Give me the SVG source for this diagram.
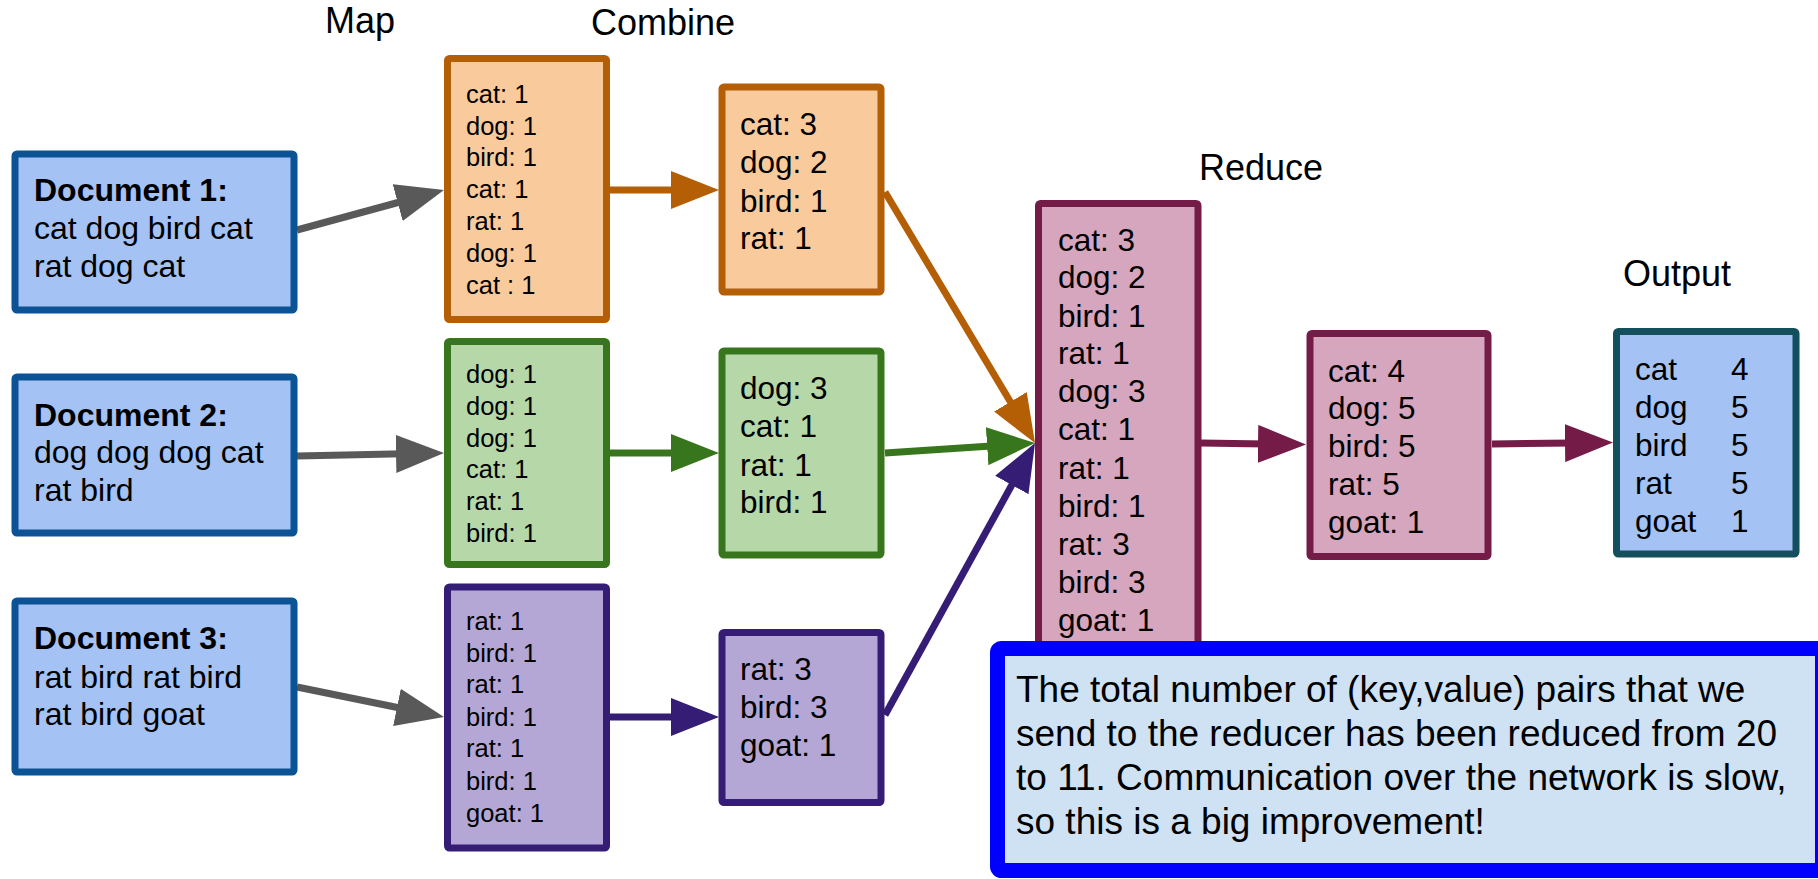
<svg xmlns="http://www.w3.org/2000/svg" width="1818" height="879" viewBox="0 0 1818 879">
<style>
text{font-family:"Liberation Sans",Arial,sans-serif;fill:#000}
.lbl{font-size:36px}
.doc{font-size:32px}
.docb{font-size:32px;font-weight:bold}
.sm{font-size:25.5px}
.md{font-size:31.5px}
.note{font-size:37px}
.box{stroke-width:7}
.docbox{fill:#a4c2f4;stroke:#0b5394}
.orbox{fill:#f9cb9c;stroke:#b45f06}
.grbox{fill:#b6d7a8;stroke:#38761d}
.pubox{fill:#b4a7d6;stroke:#351c75}
.pkbox{fill:#d5a6bd;stroke:#741b47}
.outbox{fill:#a4c2f4;stroke:#134f5c}
.con{fill:none;stroke-width:7}
</style>
<defs>
<marker id="hGray" markerUnits="userSpaceOnUse" markerWidth="48" markerHeight="38" refX="8" refY="19" orient="auto"><path d="M0,0 L48,19 L0,38 z" fill="#595959"/></marker>
<marker id="hOr" markerUnits="userSpaceOnUse" markerWidth="48" markerHeight="38" refX="8" refY="19" orient="auto"><path d="M0,0 L48,19 L0,38 z" fill="#b45f06"/></marker>
<marker id="hGr" markerUnits="userSpaceOnUse" markerWidth="48" markerHeight="38" refX="8" refY="19" orient="auto"><path d="M0,0 L48,19 L0,38 z" fill="#38761d"/></marker>
<marker id="hPu" markerUnits="userSpaceOnUse" markerWidth="48" markerHeight="38" refX="8" refY="19" orient="auto"><path d="M0,0 L48,19 L0,38 z" fill="#351c75"/></marker>
<marker id="hPk" markerUnits="userSpaceOnUse" markerWidth="48" markerHeight="38" refX="8" refY="19" orient="auto"><path d="M0,0 L48,19 L0,38 z" fill="#741b47"/></marker>
</defs>

<g id="labels">
<text class="lbl" x="325" y="33">Map</text>
<text class="lbl" x="591" y="35">Combine</text>
<text class="lbl" x="1199" y="180">Reduce</text>
<text class="lbl" x="1623" y="286">Output</text>
</g>

<g id="connectors">
<line class="con" stroke="#595959" x1="297" y1="230" x2="405.4" y2="200.5" marker-end="url(#hGray)"/>
<line class="con" stroke="#595959" x1="297" y1="456" x2="404" y2="453.8" marker-end="url(#hGray)"/>
<line class="con" stroke="#595959" x1="297" y1="687" x2="404.8" y2="709" marker-end="url(#hGray)"/>
<line class="con" stroke="#b45f06" x1="610" y1="190" x2="679" y2="190" marker-end="url(#hOr)"/>
<line class="con" stroke="#38761d" x1="610" y1="453" x2="679" y2="453" marker-end="url(#hGr)"/>
<line class="con" stroke="#351c75" x1="610" y1="717" x2="679" y2="717" marker-end="url(#hPu)"/>
<line class="con" stroke="#b45f06" x1="885" y1="192" x2="1014.5" y2="408.7" marker-end="url(#hOr)"/>
<line class="con" stroke="#38761d" x1="885" y1="453" x2="995.1" y2="445.7" marker-end="url(#hGr)"/>
<line class="con" stroke="#351c75" x1="885" y1="715" x2="1015.7" y2="478" marker-end="url(#hPu)"/>
<line class="con" stroke="#741b47" x1="1201" y1="443" x2="1266" y2="444" marker-end="url(#hPk)"/>
<line class="con" stroke="#741b47" x1="1492" y1="444" x2="1573" y2="443" marker-end="url(#hPk)"/>
</g>

<g id="doc1">
<rect class="box docbox" x="15" y="154" width="279" height="156" rx="2"/>
<text class="docb" x="34" y="201">Document 1:</text>
<text class="doc" x="34" y="239">cat dog bird cat</text>
<text class="doc" x="34" y="277">rat dog cat</text>
</g>
<g id="doc2">
<rect class="box docbox" x="15" y="377" width="279" height="156" rx="2"/>
<text class="docb" x="34" y="426">Document 2:</text>
<text class="doc" x="34" y="463">dog dog dog cat</text>
<text class="doc" x="34" y="501">rat bird</text>
</g>
<g id="doc3">
<rect class="box docbox" x="15" y="601" width="279" height="171" rx="2"/>
<text class="docb" x="34" y="649">Document 3:</text>
<text class="doc" x="34" y="688">rat bird rat bird</text>
<text class="doc" x="34" y="725">rat bird goat</text>
</g>

<g id="map1">
<rect class="box orbox" x="447.5" y="58.5" width="159" height="261" rx="2"/>
<text class="sm" x="466" y="103">cat: 1</text>
<text class="sm" x="466" y="135">dog: 1</text>
<text class="sm" x="466" y="166">bird: 1</text>
<text class="sm" x="466" y="198">cat: 1</text>
<text class="sm" x="466" y="230">rat: 1</text>
<text class="sm" x="466" y="262">dog: 1</text>
<text class="sm" x="466" y="294">cat : 1</text>
</g>
<g id="map2">
<rect class="box grbox" x="447.5" y="341.5" width="159" height="223" rx="2"/>
<text class="sm" x="466" y="383">dog: 1</text>
<text class="sm" x="466" y="415">dog: 1</text>
<text class="sm" x="466" y="447">dog: 1</text>
<text class="sm" x="466" y="478">cat: 1</text>
<text class="sm" x="466" y="510">rat: 1</text>
<text class="sm" x="466" y="542">bird: 1</text>
</g>
<g id="map3">
<rect class="box pubox" x="447.5" y="587" width="159" height="261" rx="2"/>
<text class="sm" x="466" y="630">rat: 1</text>
<text class="sm" x="466" y="662">bird: 1</text>
<text class="sm" x="466" y="693">rat: 1</text>
<text class="sm" x="466" y="726">bird: 1</text>
<text class="sm" x="466" y="757">rat: 1</text>
<text class="sm" x="466" y="790">bird: 1</text>
<text class="sm" x="466" y="822">goat: 1</text>
</g>

<g id="combine1">
<rect class="box orbox" x="722" y="87" width="159" height="205" rx="2"/>
<text class="md" x="740" y="135">cat: 3</text>
<text class="md" x="740" y="173">dog: 2</text>
<text class="md" x="740" y="212">bird: 1</text>
<text class="md" x="740" y="249">rat: 1</text>
</g>
<g id="combine2">
<rect class="box grbox" x="722" y="351" width="159" height="204" rx="2"/>
<text class="md" x="740" y="399">dog: 3</text>
<text class="md" x="740" y="437">cat: 1</text>
<text class="md" x="740" y="476">rat: 1</text>
<text class="md" x="740" y="513">bird: 1</text>
</g>
<g id="combine3">
<rect class="box pubox" x="722" y="632.5" width="159" height="170" rx="2"/>
<text class="md" x="740" y="680">rat: 3</text>
<text class="md" x="740" y="718">bird: 3</text>
<text class="md" x="740" y="756">goat: 1</text>
</g>

<g id="reduce">
<rect class="box pkbox" x="1038.5" y="203.5" width="159.5" height="500" rx="2"/>
<text class="md" x="1058" y="251">cat: 3</text>
<text class="md" x="1058" y="288">dog: 2</text>
<text class="md" x="1058" y="327">bird: 1</text>
<text class="md" x="1058" y="364">rat: 1</text>
<text class="md" x="1058" y="402">dog: 3</text>
<text class="md" x="1058" y="440">cat: 1</text>
<text class="md" x="1058" y="479">rat: 1</text>
<text class="md" x="1058" y="517">bird: 1</text>
<text class="md" x="1058" y="555">rat: 3</text>
<text class="md" x="1058" y="593">bird: 3</text>
<text class="md" x="1058" y="631">goat: 1</text>
</g>

<g id="reduce2">
<rect class="box pkbox" x="1310" y="333.5" width="178" height="223" rx="2"/>
<text class="md" x="1328" y="382">cat: 4</text>
<text class="md" x="1328" y="419">dog: 5</text>
<text class="md" x="1328" y="457">bird: 5</text>
<text class="md" x="1328" y="495">rat: 5</text>
<text class="md" x="1328" y="533">goat: 1</text>
</g>

<g id="output">
<rect class="box outbox" x="1616.5" y="331.5" width="179.5" height="222.5" rx="2"/>
<text class="md" x="1635" y="380">cat</text><text class="md" x="1731" y="380">4</text>
<text class="md" x="1635" y="418">dog</text><text class="md" x="1731" y="418">5</text>
<text class="md" x="1635" y="456">bird</text><text class="md" x="1731" y="456">5</text>
<text class="md" x="1635" y="494">rat</text><text class="md" x="1731" y="494">5</text>
<text class="md" x="1635" y="532">goat</text><text class="md" x="1731" y="532">1</text>
</g>

<g id="note">
<rect x="997.5" y="648.5" width="825" height="222" rx="4" fill="#cfe2f3" stroke="#0000ff" stroke-width="15"/>
<text class="note" x="1016" y="702">The total number of (key,value) pairs that we</text>
<text class="note" x="1016" y="746">send to the reducer has been reduced from 20</text>
<text class="note" x="1016" y="790">to 11. Communication over the network is slow,</text>
<text class="note" x="1016" y="834">so this is a big improvement!</text>
</g>
</svg>
